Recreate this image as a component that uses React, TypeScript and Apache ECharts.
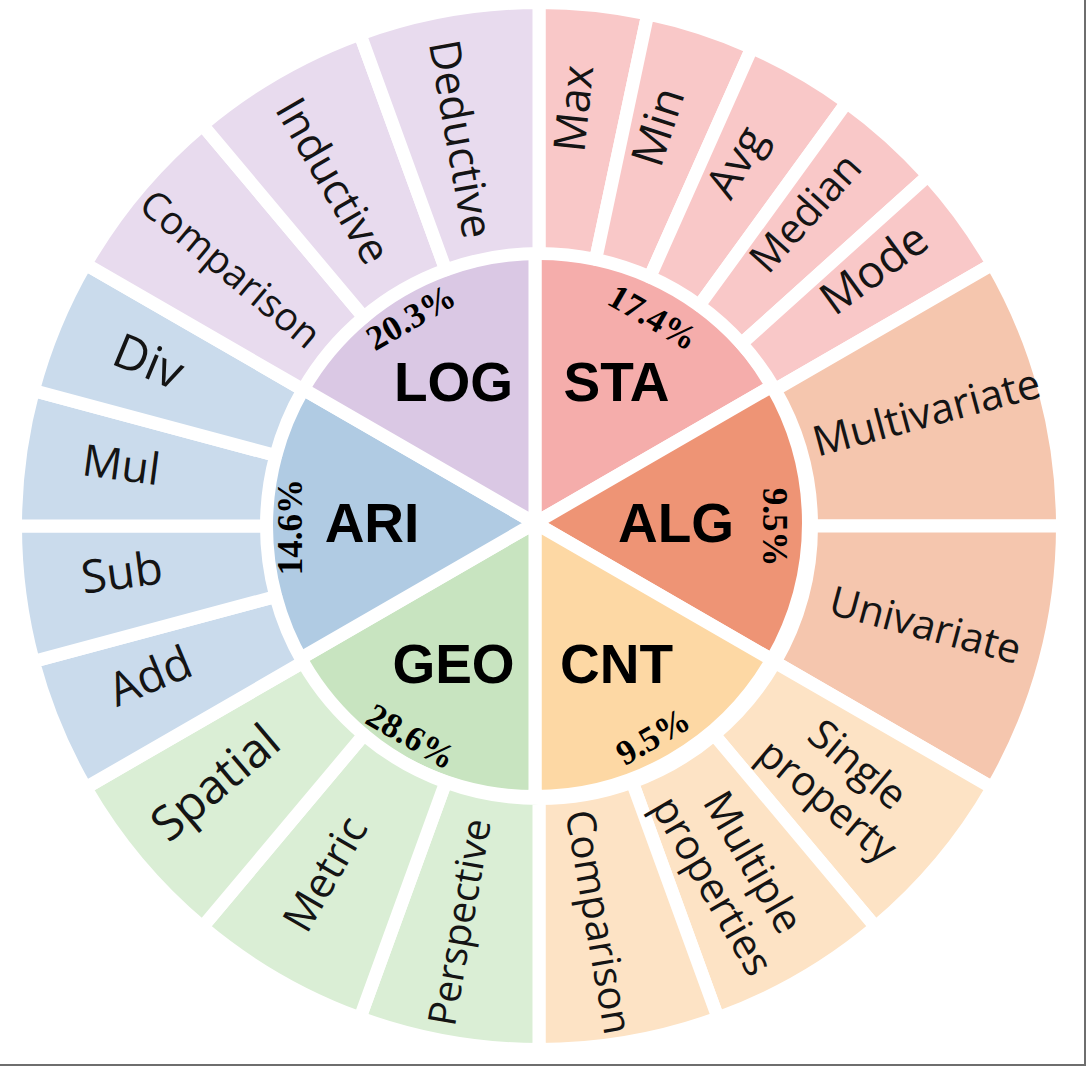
import React, { useEffect, useRef } from 'react';
import * as echarts from 'echarts';

// ---- data ----
const categories = ['STA', 'ALG', 'CNT', 'GEO', 'ARI', 'LOG'];
const shares = [17.4, 9.5, 9.5, 28.6, 14.6, 20.3];
const subcategories: string[][] = [
  ['Max', 'Min', 'Avg', 'Median', 'Mode'],
  ['Multivariate', 'Univariate'],
  ['Single\nproperty', 'Multiple\nproperties', 'Comparison'],
  ['Perspective', 'Metric', 'Spatial'],
  ['Add', 'Sub', 'Mul', 'Div'],
  ['Comparison', 'Inductive', 'Deductive'],
];

// ---- styles ----
const innerColors = ['#F5ADAB', '#EE9475', '#FDD8A4', '#C8E4C0', '#B0CBE3', '#DAC8E4'];
const outerColors = ['#F9C8C8', '#F5C6AE', '#FDE3C5', '#DAEED5', '#CADBEC', '#E8DBEE'];
const outerLabelSizes: number[][] = [
  [44, 45, 44, 41, 45],
  [42, 41],
  [41, 41, 40],
  [39, 42, 48],
  [46, 46, 44, 48],
  [39, 43, 43],
];
// radial nudges of the outer labels (px, + = outward), following the hand-placed original
const outerLabelShift: number[][] = [
  [0, 0, 0, 0, 14],
  [0, 0],
  [0, 0, 0],
  [0, 0, 0],
  [0, 0, 0, 0],
  [-23, -22, -27],
];
const namePadding = [[0, 0, 0, 0], [0, 44, 0, 0], [0, 0, 0, 0], [0, 0, 0, 0], [0, 0, 0, 0], [0, 0, 0, 0]];

const W = 1086;
const H = 1066;
const GAP = 13;
// inner ring
const CX = 535;
const CY = 523;
// outer ring
const OCX = 539;
const OCY = 526;
// label anchors
const OUTER_LABEL_CENTER = [529, 517];
const PCT_LABEL_CENTER = [532, 527];

function tangentialRotate(i: number, n: number): number {
  const theta = 90 - (i + 0.5) * (360 / n);
  let rot = theta - 90;
  while (rot > 180) rot -= 360;
  while (rot <= -180) rot += 360;
  if (rot > 90) rot -= 180;
  if (rot < -90) rot += 180;
  return rot;
}

export default function App() {
  const ref = useRef<HTMLDivElement>(null);

  useEffect(() => {
    document.body.style.margin = '0';
    const chart = echarts.init(ref.current!, null, { renderer: 'svg' });

    const n = categories.length;
    const outerData: any[] = [];
    const outerLabelData: any[] = [];
    subcategories.forEach((subs, i) => {
      subs.forEach((s, j) => {
        const v = 1 / subs.length;
        outerData.push({ name: s, value: v, itemStyle: { color: outerColors[i] } });
        // mid angle (math degrees) decides whether radial text reads outward (right half) or inward
        const mid = 90 - (i + (j + 0.5) / subs.length) * (360 / n);
        const rightHalf = Math.cos((mid * Math.PI) / 180) > 0;
        const sh = outerLabelShift[i][j];
        const padLeftOut = rightHalf ? sh > 0 : sh < 0;
        const p = Math.abs(sh) * 2;
        const padding = padLeftOut ? [0, 0, 0, p] : [0, p, 0, 0];
        outerLabelData.push({
          name: s,
          value: v,
          label: { fontSize: outerLabelSizes[i][j], lineHeight: outerLabelSizes[i][j] * 1.15, padding },
        });
      });
    });

    const common = {
      type: 'pie',
      startAngle: 90,
      clockwise: true,
      silent: true,
      avoidLabelOverlap: false,
      labelLine: { show: false },
      emphasis: { disabled: true },
    };

    chart.setOption({
      animation: false,
      backgroundColor: '#ffffff',
      series: [
        {
          ...common,
          center: [CX, CY],
          radius: [0, 267 + GAP / 2],
          itemStyle: { borderColor: '#ffffff', borderWidth: GAP, borderJoin: 'round' },
          label: { show: false },
          data: categories.map((c, i) => ({ name: c, value: 1, itemStyle: { color: innerColors[i] } })),
        },
        {
          ...common,
          center: [OCX, OCY],
          radius: [279 - GAP / 2, 517 + GAP / 2],
          itemStyle: { borderColor: '#ffffff', borderWidth: GAP, borderJoin: 'round' },
          label: { show: false },
          data: outerData,
        },
        {
          ...common,
          center: OUTER_LABEL_CENTER,
          radius: [300, 516],
          itemStyle: { color: 'rgba(0,0,0,0)' },
          label: {
            show: true,
            position: 'inside',
            rotate: 'radial',
            formatter: '{b}',
            fontFamily: '"Open Sans", "Noto Sans", sans-serif',
            color: '#141414',
          },
          data: outerLabelData,
        },
        {
          ...common,
          center: [CX, CY],
          radius: [100, 220],
          itemStyle: { color: 'rgba(0,0,0,0)' },
          label: {
            show: true,
            position: 'inside',
            rotate: 0,
            fontSize: 55,
            fontWeight: 'bold',
            fontFamily: '"Liberation Sans", Arial, sans-serif',
            color: '#000000',
          },
          data: categories.map((c, i) => ({
            name: c,
            value: 1,
            label: { formatter: c, padding: namePadding[i] },
          })),
        },
        {
          ...common,
          center: PCT_LABEL_CENTER,
          radius: [211, 267],
          itemStyle: { color: 'rgba(0,0,0,0)' },
          label: {
            show: true,
            position: 'inside',
            fontSize: 35,
            fontWeight: 'bold',
            fontFamily: '"Liberation Serif", "Times New Roman", serif',
            color: '#000000',
          },
          data: categories.map((c, i) => ({
            name: c,
            value: 1,
            label: {
              formatter: shares[i].toFixed(1) + '%',
              rotate: tangentialRotate(i, n),
            },
          })),
        },
      ],
      graphic: [
        { type: 'line', silent: true, shape: { x1: W - 1, y1: 0, x2: W - 1, y2: H }, style: { stroke: '#6e6e6e', lineWidth: 2 } },
        { type: 'line', silent: true, shape: { x1: 0, y1: H - 1, x2: W, y2: H - 1 }, style: { stroke: '#6e6e6e', lineWidth: 2 } },
      ],
    });

    return () => chart.dispose();
  }, []);

  return <div ref={ref} style={{ width: W, height: H }} />;
}
